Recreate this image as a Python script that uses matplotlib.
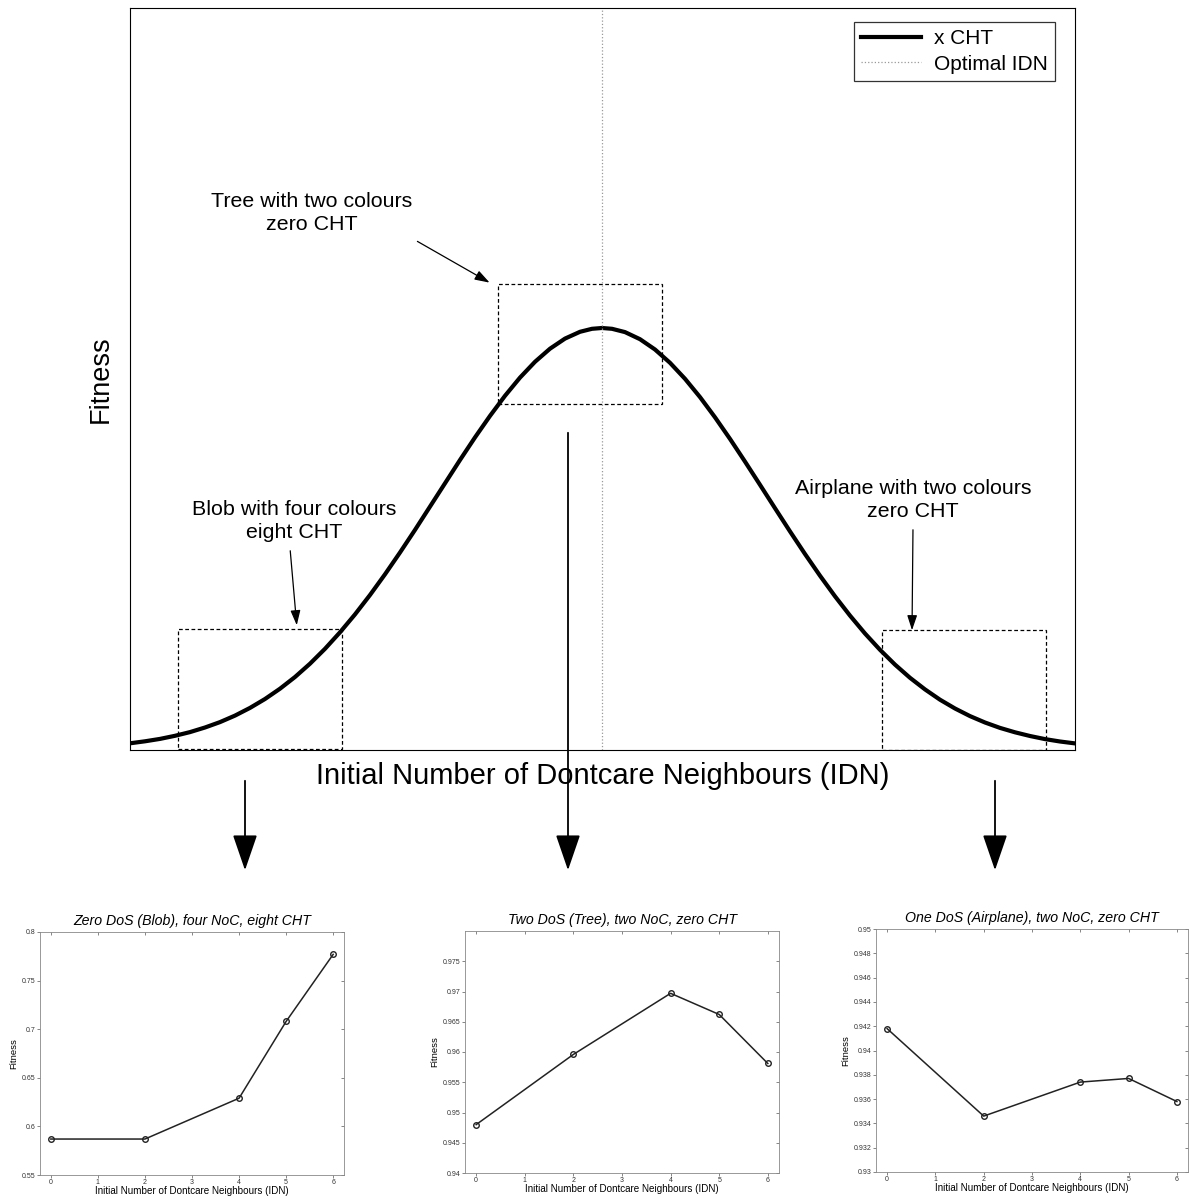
import matplotlib.pyplot as plt
from matplotlib.patches import Rectangle, FancyArrowPatch

plt.rcParams['font.family'] = ['Liberation Sans', 'DejaVu Sans']

W, H = 1190, 1198

# schematic fitness curve (main panel)
curve_x = [0, 15, 30, 45, 60, 75, 90, 105, 120, 135, 150, 165, 180, 195, 210, 225, 240, 255,
           270, 285, 300, 315, 330, 345, 360, 375, 390, 405, 420, 435, 450, 462, 472, 482,
           495, 510, 525, 540, 555, 570, 585, 600, 615, 630, 645, 660, 675, 690, 705, 720,
           735, 750, 765, 780, 795, 810, 825, 840, 855, 870, 885, 900, 915, 930, 945]
curve_y = [6.7, 8.7, 11.1, 14.2, 17.9, 22.5, 27.9, 34.4, 42.1, 51.0, 61.3, 73.0, 86.3, 101.2,
           117.7, 135.6, 155.0, 175.7, 197.5, 220.1, 243.4, 266.7, 290.0, 312.6, 334.1, 354.2,
           372.4, 388.2, 401.3, 411.4, 418.2, 421.2, 422.0, 421.2, 417.9, 410.8, 400.5, 387.2,
           371.2, 352.9, 332.7, 311.1, 288.4, 265.2, 241.8, 218.6, 196.0, 174.3, 153.7, 134.4,
           116.5, 100.2, 85.4, 72.2, 60.6, 50.3, 41.5, 33.9, 27.5, 22.1, 17.7, 14.0, 10.9,
           8.5, 6.6]
optimal_idn = 472

# small panels
idn = [0, 2, 4, 5, 6]
blob_fit = [0.587, 0.587, 0.629, 0.708, 0.777]
tree_fit = [0.948, 0.9596, 0.9697, 0.9662, 0.9581]
plane_fit = [0.9418, 0.9346, 0.9374, 0.9377, 0.9358]

sub_titles = ['Zero DoS (Blob), four NoC, eight CHT',
              'Two DoS (Tree), two NoC, zero CHT',
              'One DoS (Airplane), two NoC, zero CHT']
sub_ylims = [(0.55, 0.8), (0.94, 0.98), (0.93, 0.95)]
sub_yticks = [[0.55, 0.6, 0.65, 0.7, 0.75, 0.8],
              [0.94, 0.945, 0.95, 0.955, 0.96, 0.965, 0.97, 0.975],
              [0.93, 0.932, 0.934, 0.936, 0.938, 0.94, 0.942, 0.944, 0.946, 0.948, 0.95]]


def rect(l, t, r, b):
    return [l / W, 1 - b / H, (r - l) / W, (b - t) / H]


def fpx(x, y):
    return (x / W, 1 - y / H)


fig = plt.figure(figsize=(W / 100, H / 100), dpi=100)

ax = fig.add_axes(rect(130, 8, 1075, 750))
ax.plot(curve_x, curve_y, color='black', linewidth=3, label='x CHT')
ax.axvline(optimal_idn, color='#999999', linestyle=':', linewidth=0.9, label='Optimal IDN')
ax.set_xlim(0, 945)
ax.set_ylim(0, 742)
ax.set_xticks([])
ax.set_yticks([])
ax.set_xlabel('Initial Number of Dontcare Neighbours (IDN)', fontsize=21, labelpad=9)
ax.set_ylabel('Fitness', fontsize=19.5, labelpad=12)
leg = ax.legend(loc='upper right', bbox_to_anchor=(0.979, 0.981), fontsize=15,
                fancybox=False, edgecolor='black', handlelength=2.9, borderpad=0.35,
                borderaxespad=0, labelspacing=0.3, handletextpad=0.6)
leg.get_frame().set_linewidth(0.9)

# dashed zoom boxes
for (l, b) in [(368, 346), (48, 1), (752, 0)]:
    ax.add_patch(Rectangle((l, b), 164, 120, fill=False, linestyle=(0, (3, 2)),
                           linewidth=0.9, edgecolor='black'))

small = dict(arrowstyle='-|>,head_length=0.9,head_width=0.3', color='black', lw=0.9)
txt = dict(fontsize=15.4, ha='center', va='center', linespacing=1.3)
ax.text(182, 537, 'Tree with two colours\nzero CHT', **txt)
ax.annotate('', xy=(362, 466), xytext=(285, 510), arrowprops=small)
ax.text(164, 229, 'Blob with four colours\neight CHT', **txt)
ax.annotate('', xy=(167, 122), xytext=(160, 202), arrowprops=small)
ax.text(783, 250, 'Airplane with two colours\nzero CHT', **txt)
ax.annotate('', xy=(782, 117), xytext=(783, 223), arrowprops=small)

# big arrows down to the small panels
for x0, y0, y1 in [(245, 778, 873), (568, 430, 873), (995, 778, 873)]:
    fig.add_artist(FancyArrowPatch(
        fpx(x0, y0), fpx(x0, y1), transform=fig.transFigure,
        arrowstyle='-|>,head_length=1.6,head_width=0.55', color='black', lw=1.3,
        mutation_scale=14))

# small panels
boxes = [(40, 932, 344, 1175), (465, 931, 779, 1173), (876, 929, 1188, 1172)]
for i, fit in enumerate([blob_fit, tree_fit, plane_fit]):
    a = fig.add_axes(rect(*boxes[i]))
    a.plot(idn, fit, color='#222222', linewidth=1.1, marker='o', markersize=4,
           markerfacecolor='none', markeredgecolor='#222222', markeredgewidth=1.0)
    a.set_xlim(-0.23, 6.23)
    a.set_ylim(*sub_ylims[i])
    a.set_xticks(range(7))
    a.set_yticks(sub_yticks[i])
    a.set_yticklabels([f'{v:g}' for v in sub_yticks[i]])
    a.tick_params(direction='out', labelsize=5, length=2, width=0.5,
                  colors='#555555', labelcolor='#333333', pad=1)
    # mirrored ticks on top/right, pointing inwards
    top = a.secondary_xaxis('top')
    top.set_xticks(range(7))
    right = a.secondary_yaxis('right')
    right.set_yticks(sub_yticks[i])
    for sec in (top, right):
        sec.tick_params(direction='in', length=2.5, width=0.5, colors='#555555',
                        labeltop=False, labelright=False)
        for s in sec.spines.values():
            s.set_visible(False)
    for s in a.spines.values():
        s.set_color('#888888')
        s.set_linewidth(0.6)
    a.set_title(sub_titles[i], fontsize=10.2, style='italic', pad=5)
    a.set_xlabel('Initial Number of Dontcare Neighbours (IDN)', fontsize=7.1, labelpad=0)
    a.set_ylabel('Fitness', fontsize=6.8, labelpad=3)

plt.savefig('out.png', dpi=100)
